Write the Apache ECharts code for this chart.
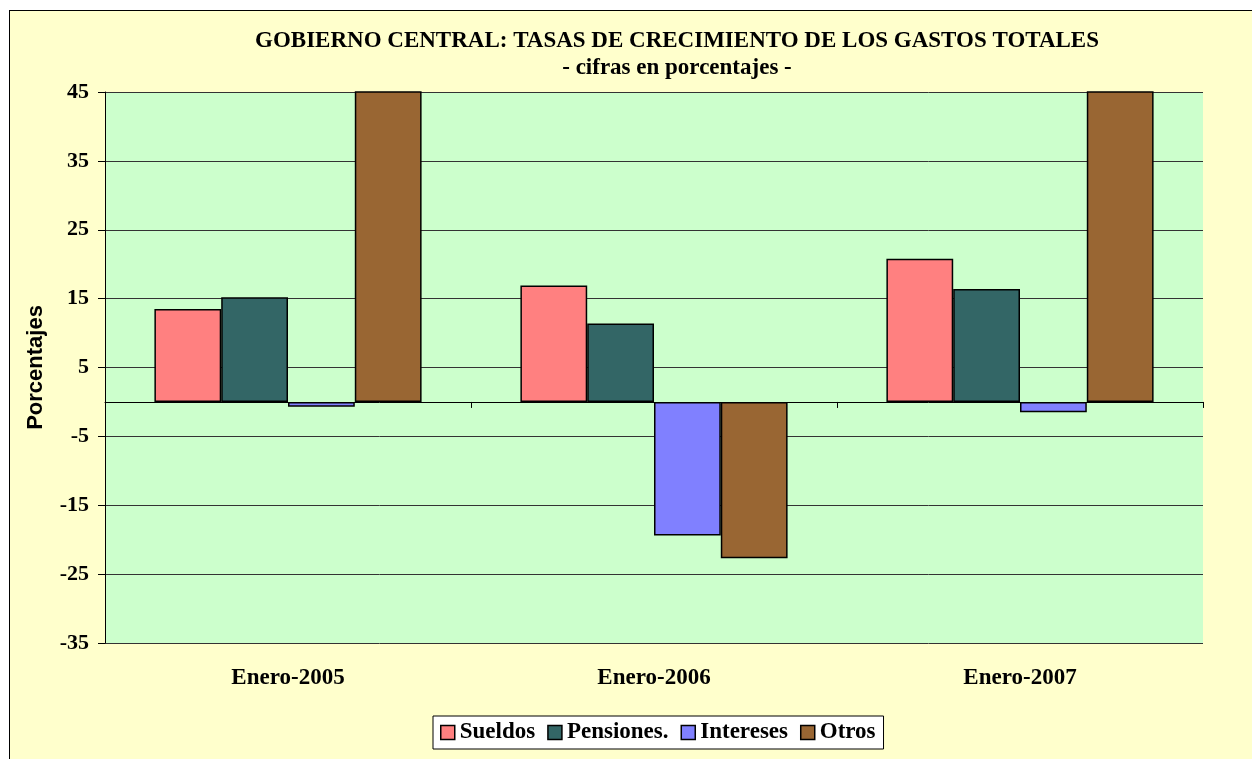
<!DOCTYPE html>
<html>
<head>
<meta charset="utf-8">
<script src="https://cdn.jsdelivr.net/npm/echarts@6/dist/echarts.min.js"></script>
<style>
  html, body { margin: 0; padding: 0; background: #ffffff; }
  #frame { position: absolute; left: 9px; top: 10px; width: 1260px; height: 770px; background: #ffffcc; border-left: 1px solid #000; border-top: 1px solid #000; }
  #chart { position: absolute; left: 0; top: 0; width: 1252px; height: 759px; }
</style>
</head>
<body>
<div id="frame"></div>
<div id="chart"></div>
<script>
// data
const categories = ['Enero-2005', 'Enero-2006', 'Enero-2007'];
const sueldos = [13.5, 16.9, 20.8];
const pensiones = [15.2, 11.4, 16.4];
const intereses = [-0.7, -19.4, -1.5];
const otros = [55, -22.7, 60];   // first and last go off the top of the axis

const yMin = -35, yMax = 45, yStep = 10;

const serif = '"Liberation Serif", "Times New Roman", serif';

function bar(name, data, color) {
  return {
    name: name,
    type: 'bar',
    data: data,
    clip: true,
    barGap: '0%',
    barCategoryGap: '27%',
    itemStyle: { color: color, borderColor: '#000', borderWidth: 1.5 }
  };
}

var myChart = echarts.init(document.getElementById('chart'));
myChart.setOption({
  backgroundColor: 'transparent',
  animation: false,
  title: {
    text: 'GOBIERNO CENTRAL: TASAS DE CRECIMIENTO DE LOS GASTOS TOTALES',
    subtext: '- cifras en porcentajes -',
    left: 672,
    textAlign: 'center',
    top: 25,
    itemGap: 4,
    textStyle: { fontFamily: serif, fontWeight: 'bold', fontSize: 23, color: '#000' },
    subtextStyle: { fontFamily: serif, fontWeight: 'bold', fontSize: 23, color: '#000' }
  },
  legend: {
    data: ['Sueldos', 'Pensiones.', 'Intereses', 'Otros'],
    left: 433,
    top: 716,
    padding: [5, 8, 5, 7],
    icon: 'rect',
    itemWidth: 14,
    itemHeight: 14,
    itemGap: 12,
    backgroundColor: '#fff',
    borderColor: '#000',
    borderWidth: 1,
    itemStyle: { borderColor: '#000', borderWidth: 1.5 },
    textStyle: { fontFamily: serif, fontWeight: 'bold', fontSize: 23, color: '#000' }
  },
  grid: {
    left: 105,
    right: 49,
    top: 92,
    bottom: 116,
    show: true,
    backgroundColor: '#ccffcc',
    borderWidth: 0
  },
  xAxis: {
    type: 'category',
    data: categories,
    position: 'bottom',
    axisLine: { onZero: true, lineStyle: { color: '#000', width: 1 } },
    axisTick: { show: true, length: 6, lineStyle: { color: '#000' } },
    axisLabel: { margin: 24, fontFamily: serif, fontWeight: 'bold', fontSize: 23, color: '#000' }
  },
  yAxis: {
    type: 'value',
    min: yMin,
    max: yMax,
    interval: yStep,
    name: 'Porcentajes',
    nameLocation: 'middle',
    nameGap: 58,
    nameRotate: 90,
    nameTextStyle: { fontFamily: '"Liberation Sans", Arial, sans-serif', fontWeight: 'bold', fontSize: 22, color: '#000' },
    axisLine: { show: true, lineStyle: { color: '#000', width: 1 } },
    axisTick: { show: true, length: 7, lineStyle: { color: '#000' } },
    axisLabel: { margin: 16, fontFamily: serif, fontWeight: 'bold', fontSize: 22, color: '#000' },
    splitLine: { show: true, lineStyle: { color: '#333', width: 1 } }
  },
  series: [
    bar('Sueldos', sueldos, '#ff8080'),
    bar('Pensiones.', pensiones, '#336666'),
    bar('Intereses', intereses, '#8080ff'),
    bar('Otros', otros, '#996633')
  ]
});
</script>
</body>
</html>
